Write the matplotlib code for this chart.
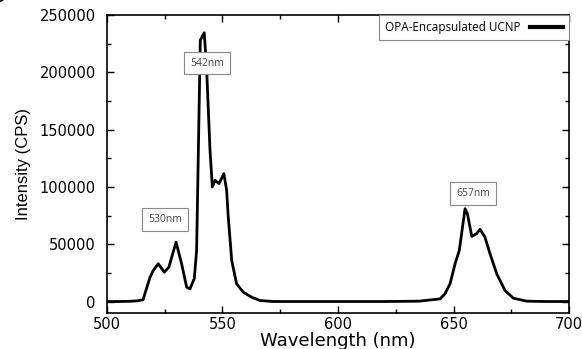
import matplotlib
matplotlib.use("Agg")
import matplotlib.pyplot as plt
from matplotlib.ticker import MultipleLocator

wavelength = [500, 505, 510, 513, 515.6, 518.6, 520.0, 522.2, 524.8, 526.8, 529.9, 532.3, 534.5,
              535.9, 537.8, 538.8, 540.4, 542.1, 543.1, 544.6, 545.6, 546.8, 548.5, 550.6,
              551.8, 552.5, 554.0, 556.1, 559.0, 562.6, 566.2, 571.9, 580, 600, 620, 635,
              644.2, 646.3, 648.5, 650.7, 652.5, 653.5, 655.0, 656.0, 657.9, 660.0, 661.5,
              663.6, 665.8, 668.7, 672.3, 675.9, 681.7, 690, 700]
intensity = [0, 0, 200, 600, 1500, 21000, 27000, 33000, 25600, 30000, 51800, 33000, 12500,
             11000, 20000, 44600, 228000, 234500, 204800, 132000, 100000, 105800, 102900, 111600,
             97000, 73700, 35800, 15500, 8100, 3800, 900, 0, 0, 0, 0, 300,
             2300, 6700, 15500, 33000, 44600, 59200, 81000, 76700, 56800, 59200, 63000,
             56200, 41700, 24200, 9600, 2900, 300, 0, 0]

series_label = "OPA-Encapsulated UCNP"
peak_labels = ["530nm", "542nm", "657nm"]
peak_label_x = [525.1, 543.3, 658.4]
peak_label_y = [71700, 208000, 94400]

x_ticks = [500, 550, 600, 650, 700]
y_ticks = [0, 50000, 100000, 150000, 200000, 250000]

fig = plt.figure(figsize=(5.82, 3.49), dpi=100)
ax = fig.add_axes([0.1838, 0.1032, 0.7939, 0.8538])

ax.plot(wavelength, intensity, color="black", lw=2.0, label=series_label)

ax.set_xlim(500, 700)
ax.set_ylim(-10000, 250000)
ax.set_xticks(x_ticks)
ax.set_yticks(y_ticks)
ax.xaxis.set_minor_locator(MultipleLocator(25))
ax.yaxis.set_minor_locator(MultipleLocator(25000))
ax.tick_params(which="both", direction="in", top=True, right=True, width=1.0,
               labelsize=10.5)
ax.tick_params(axis="x", pad=3)
ax.tick_params(axis="y", pad=8)
ax.tick_params(which="major", length=5)
ax.tick_params(which="minor", length=3)
for lbl in ax.get_xticklabels() + ax.get_yticklabels():
    lbl.set_family("DejaVu Sans")
for s in ax.spines.values():
    s.set_linewidth(1.2)

ax.set_xlabel("Wavelength (nm)", fontsize=13, family="DejaVu Sans", labelpad=0)
ax.set_ylabel("Intensity (CPS)", fontsize=12, family="Liberation Sans", labelpad=6)

for txt, x, y in zip(peak_labels, peak_label_x, peak_label_y):
    ax.text(x, y, txt, ha="center", va="center", fontsize=7.5, color="#444444",
            family="Open Sans",
            bbox=dict(boxstyle="square,pad=0.55", fc="white", ec="#888888", lw=0.8))

leg = ax.legend(loc="upper right", borderaxespad=0, markerfirst=False, fancybox=False,
                edgecolor="#888888", framealpha=1, handlelength=2.8,
                prop={"family": "Open Sans", "size": 8.5}, borderpad=0.5)
leg.get_frame().set_linewidth(0.8)
for h in leg.get_lines():
    h.set_linewidth(3)

fig.text(-0.04, 1.02, "Figure 4.", fontsize=12, fontweight="bold", ha="left", va="center")

fig.savefig("out.png", dpi=100)
